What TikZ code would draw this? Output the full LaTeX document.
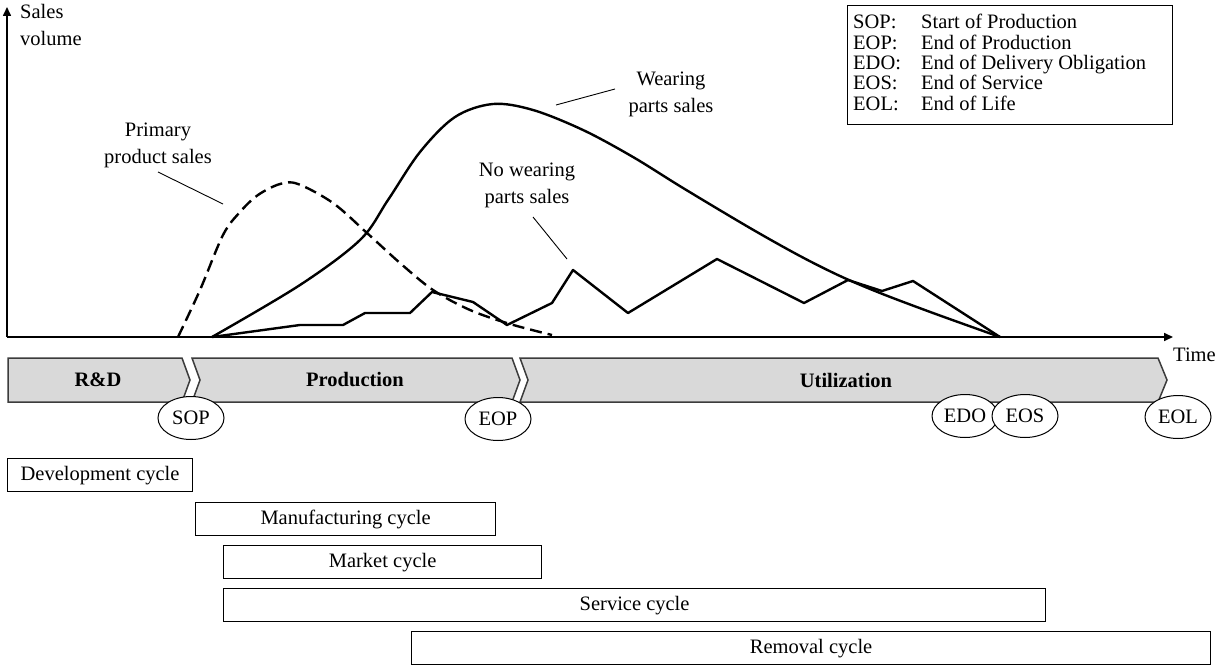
\documentclass[tikz,border=0pt]{standalone}
\usepackage{fontspec}
\setmainfont{Liberation Serif}
\usetikzlibrary{shapes.geometric,arrows.meta}
\definecolor{barfill}{RGB}{217,217,217}
\definecolor{barline}{RGB}{60,60,60}
\begin{document}
\begin{tikzpicture}[x=1pt,y=-1pt,
  every node/.style={font=\fontsize{20.5}{27}\selectfont, inner sep=0pt},
  axis/.style={line width=1.6pt, -{Triangle[length=9pt,width=8pt]}},
  phase/.style={draw=barline, fill=barfill, line width=1.5pt, line join=miter},
  phaselabel/.style={font=\fontsize{20.5}{26}\selectfont\bfseries},
  milestone/.style={ellipse, draw, fill=white, line width=1pt, minimum width=66pt, minimum height=43pt},
  cyclebox/.style={draw, line width=1.2pt, anchor=north west, minimum height=33pt},
  curve/.style={line width=2.4pt, line join=round},
  dashcurve/.style={curve, dash pattern=on 12pt off 6pt},
  leader/.style={line width=0.9pt},
  lbl/.style={align=center, anchor=base}
]
\useasboundingbox (0,0) rectangle (1217,666);

% axes
\coordinate (O) at (7,337);
\coordinate (ytip) at (7,7);
\coordinate (xtip) at (1173,337);
\draw[axis] (O) -- (ytip);
\draw[axis] (O) -- (xtip);
\node[anchor=base west, align=left] (ylabel) at (20,46) {Sales\\volume};
\node[anchor=base west] (xlabel) at (1173,361) {Time};

% phase bar
\draw[phase] (8,358) -- (182,358) -- (190,380) -- (182,402) -- (8,402) -- cycle;
\draw[phase] (192,358) -- (512,358) -- (520,380) -- (512,402) -- (192,402) -- (200,380) -- cycle;
\draw[phase] (520,358) -- (1158,358) -- (1167,380) -- (1158,402) -- (520,402) -- (528,380) -- cycle;
\node[phaselabel] (rd) at (98,380) {R\&D};
\node[phaselabel] (prod) at (355,380) {Production};
\node[phaselabel] (util) at (846,380) {Utilization};

% milestones
\node[milestone] (sop) at (191,418) {SOP};
\node[milestone] (eop) at (498,419) {EOP};
\node[milestone] (edo) at (965,416) {EDO};
\node[milestone] (eos) at (1025,416) {EOS};
\node[milestone] (eol) at (1178,417) {EOL};

% legend
\node[draw, line width=1pt, anchor=north west, minimum width=325pt, minimum height=119pt] (legend) at (847,5) {};
\node[anchor=north west, font=\fontsize{20.5}{20}\selectfont] (legtext) at (853,14) {%
\begin{tabular}{@{}p{68pt}@{}l@{}}
SOP: & Start of Production\\
EOP: & End of Production\\
EDO: & End of Delivery Obligation\\
EOS: & End of Service\\
EOL: & End of Life
\end{tabular}};

% curves
\draw[dashcurve] plot[smooth, tension=0.55] coordinates {(178,337) (200,290) (223,235) (240,212) (258,195) (280,184) (298,184) (333,203) (367,233) (400,263) (433,290) (470,310) (510,324) (552,335)};
\draw[curve] plot[smooth, tension=0.55] coordinates {(212,337) (300,285) (360,240) (388,200) (420,152) (455,117) (493,104) (533,110) (583,130) (633,157) (683,188) (750,228) (800,256) (840,276) (880,293) (933,313) (1000,337)};
\draw[curve] (212,337) -- (300,325) -- (343,325) -- (365,313) -- (410,313) -- (432,292) -- (473,302) -- (507,325) -- (552,303) -- (573,270) -- (628,313) -- (717,259) -- (804,303) -- (848,280) -- (882,291) -- (913,281) -- (1000,337);

% curve labels
\node[lbl] (pps) at (158,163) {Primary\\product sales};
\node[lbl] (wps) at (671,113) {Wearing\\parts sales};
\node[lbl] (nwps) at (527,203) {No wearing\\parts sales};
\coordinate (ppsA) at (158,172);
\coordinate (ppsB) at (223,204);
\coordinate (wpsA) at (615,89);
\coordinate (wpsB) at (556,105);
\coordinate (nwpsA) at (533,217);
\coordinate (nwpsB) at (567,259);
\draw[leader] (ppsA) -- (ppsB);
\draw[leader] (wpsA) -- (wpsB);
\draw[leader] (nwpsA) -- (nwpsB);

% cycles
\node[cyclebox, minimum width=185pt] (dev) at (7,458) {Development cycle};
\node[cyclebox, minimum width=300pt] (man) at (195,502) {Manufacturing cycle};
\node[cyclebox, minimum width=318pt] (mkt) at (223,545) {Market cycle};
\node[cyclebox, minimum width=822pt] (svc) at (223,588) {Service cycle};
\node[cyclebox, minimum width=799pt] (rem) at (411,631) {Removal cycle};
\end{tikzpicture}
\end{document}
